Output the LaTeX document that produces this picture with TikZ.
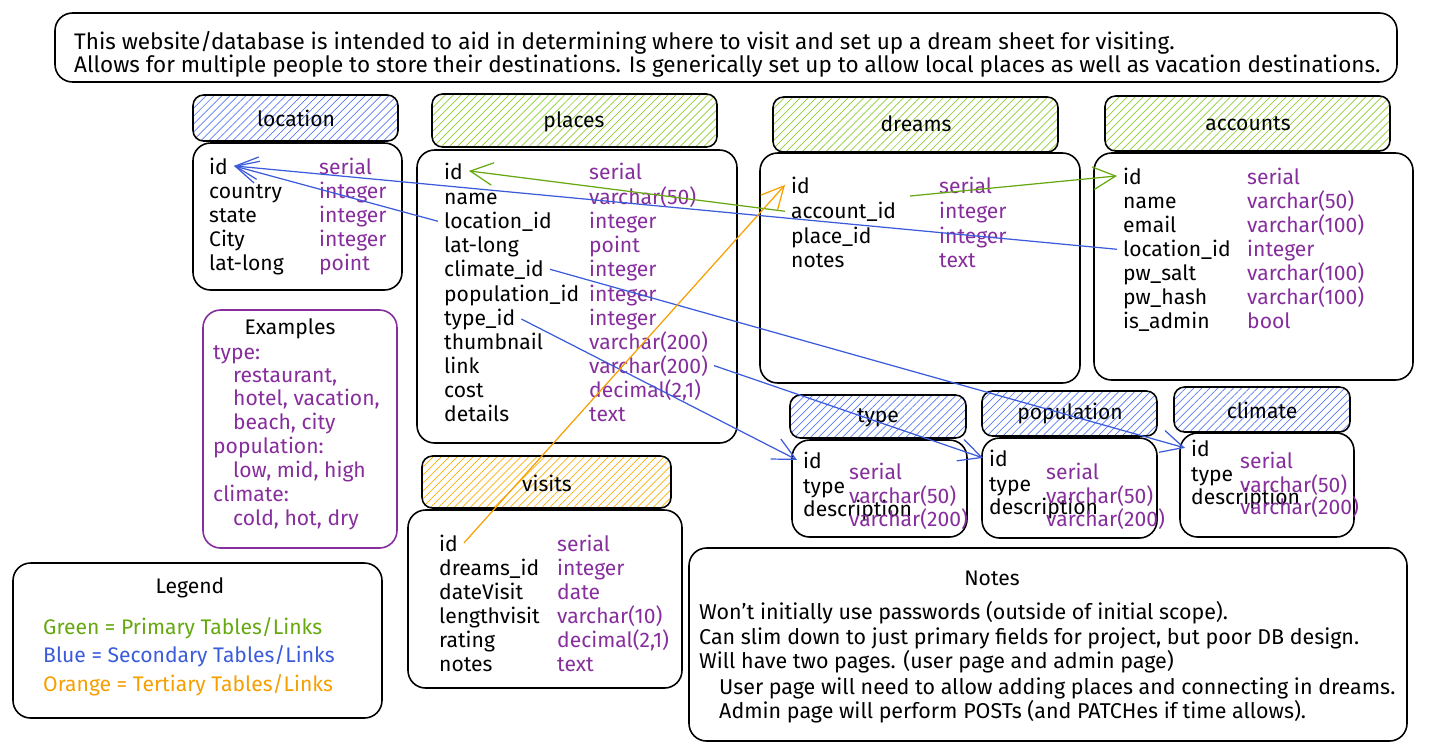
\documentclass[tikz,border=0pt]{standalone}
\usepackage{fontspec}
\setmainfont{Fira Sans}
\usetikzlibrary{positioning, arrows.meta, patterns.meta}

\definecolor{hatchgreen}{RGB}{140,206,50}
\definecolor{hatchblue}{RGB}{90,122,245}
\definecolor{hatchorange}{RGB}{250,176,5}
\definecolor{typepurple}{RGB}{134,46,156}
\definecolor{linkgreen}{RGB}{102,168,15}
\definecolor{linkblue}{RGB}{59,91,219}
\definecolor{linkorange}{RGB}{245,159,0}

\tikzset{
  body/.style={draw=black, line width=0.9pt, rounded corners=10pt},
  head/.style={draw=black, line width=0.9pt, rounded corners=6pt},
  greenhead/.style={head, pattern={Lines[angle=45, distance=3.2pt, line width=0.4pt]}, pattern color=hatchgreen},
  bluehead/.style={head, pattern={Lines[angle=45, distance=3.2pt, line width=0.4pt]}, pattern color=hatchblue},
  orangehead/.style={head, pattern={Lines[angle=45, distance=3.2pt, line width=0.4pt]}, pattern color=hatchorange},
  title/.style={font=\fontsize{12}{14}\selectfont},
  fname/.style={anchor=base west, font=\fontsize{12}{14}\selectfont},
  ftype/.style={anchor=base west, text=typepurple, font=\fontsize{12}{14}\selectfont},
  txt/.style={anchor=base west, font=\fontsize{12.8}{14}\selectfont},
  notetxt/.style={anchor=base west, font=\fontsize{12.2}{14}\selectfont},
  link/.style={line width=0.7pt, -{Straight Barb[length=4.5mm, width=4.5mm]}},
}

\begin{document}
\begin{tikzpicture}[x=0.02cm, y=-0.02cm]
\useasboundingbox (0,0) rectangle (1429,755);

% banner
\draw[body] (55,13) rectangle (1397,82);
\node[txt] (intro1) at (68,49) {This website/database is intended to aid in determining where to visit and set up a dream sheet for visiting.};
\node[txt] (intro2) at (68,72) {Allows for multiple people to store their destinations. Is generically set up to allow local places as well as vacation destinations.};

% location
\draw[bluehead] (193,95) rectangle (398,141);
\node[title] (location) at (296,118) {location};
\draw[body] (193,143) rectangle (402,290);
\node[fname] (l-id) at (203,174) {id};
\node[fname] (l-country) at (203,198) {country};
\node[fname] (l-state) at (203,222) {state};
\node[fname] (l-city) at (203,246) {City};
\node[fname] (l-latlong) at (203,270) {lat-long};
\node[ftype] (l-id-type) at (313,174) {serial};
\node[ftype] (l-country-type) at (313,198) {integer};
\node[ftype] (l-state-type) at (313,222) {integer};
\node[ftype] (l-city-type) at (313,246) {integer};
\node[ftype] (l-latlong-type) at (313,270) {point};

% places
\draw[greenhead] (432,94) rectangle (717,147);
\node[title] (places) at (574,122) {places};
\draw[body] (417,150) rectangle (737,443);
\node[fname] (p-id) at (438,179) {id};
\node[fname] (p-name) at (438,204) {name};
\node[fname] (p-location) at (438,228) {location\_id};
\node[fname] (p-latlong) at (438,252) {lat-long};
\node[fname] (p-climate) at (438,276) {climate\_id};
\node[fname] (p-population) at (438,301) {population\_id};
\node[fname] (p-type) at (438,325) {type\_id};
\node[fname] (p-thumb) at (438,349) {thumbnail};
\node[fname] (p-link) at (438,373) {link};
\node[fname] (p-cost) at (438,397) {cost};
\node[fname] (p-details) at (438,421) {details};
\node[ftype] (p-id-type) at (583,179) {serial};
\node[ftype] (p-name-type) at (583,204) {varchar(50)};
\node[ftype] (p-location-type) at (583,228) {integer};
\node[ftype] (p-latlong-type) at (583,252) {point};
\node[ftype] (p-climate-type) at (583,276) {integer};
\node[ftype] (p-population-type) at (583,301) {integer};
\node[ftype] (p-type-type) at (583,325) {integer};
\node[ftype] (p-thumb-type) at (583,349) {varchar(200)};
\node[ftype] (p-link-type) at (583,373) {varchar(200)};
\node[ftype] (p-cost-type) at (583,397) {decimal(2,1)};
\node[ftype] (p-details-type) at (583,421) {text};

% dreams
\draw[greenhead] (773,97) rectangle (1058,152);
\node[title] (dreams) at (916,124) {dreams};
\draw[body] (760,153) rectangle (1080,383);
\node[fname] (d-id) at (785,193) {id};
\node[fname] (d-account) at (785,218) {account\_id};
\node[fname] (d-place) at (785,243) {place\_id};
\node[fname] (d-notes) at (785,267) {notes};
\node[ftype] (d-id-type) at (933,193) {serial};
\node[ftype] (d-account-type) at (933,218) {integer};
\node[ftype] (d-place-type) at (933,243) {integer};
\node[ftype] (d-notes-type) at (933,267) {text};
\coordinate (dreams-out) at (910,196);

% accounts
\draw[greenhead] (1105,96) rectangle (1390,151);
\node[title] (accounts) at (1248,124) {accounts};
\draw[body] (1094,153) rectangle (1413,380);
\node[fname] (a-id) at (1117,184) {id};
\node[fname] (a-name) at (1117,208) {name};
\node[fname] (a-email) at (1117,232) {email};
\node[fname] (a-location) at (1117,256) {location\_id};
\node[fname] (a-salt) at (1117,280) {pw\_salt};
\node[fname] (a-hash) at (1117,304) {pw\_hash};
\node[fname] (a-admin) at (1117,328) {is\_admin};
\node[ftype] (a-id-type) at (1241,184) {serial};
\node[ftype] (a-name-type) at (1241,208) {varchar(50)};
\node[ftype] (a-email-type) at (1241,232) {varchar(100)};
\node[ftype] (a-location-type) at (1241,256) {integer};
\node[ftype] (a-salt-type) at (1241,280) {varchar(100)};
\node[ftype] (a-hash-type) at (1241,304) {varchar(100)};
\node[ftype] (a-admin-type) at (1241,328) {bool};

% visits
\draw[orangehead] (422,456) rectangle (671,508);
\node[title] (visits) at (547,483) {visits};
\draw[body] (408,510) rectangle (682,688);
\node[fname] (v-id) at (433,551) {id};
\node[fname] (v-dreams) at (433,575) {dreams\_id};
\node[fname] (v-date) at (433,599) {dateVisit};
\node[fname] (v-length) at (433,623) {lengthvisit};
\node[fname] (v-rating) at (433,647) {rating};
\node[fname] (v-notes) at (433,671) {notes};
\node[ftype] (v-id-type) at (551,551) {serial};
\node[ftype] (v-dreams-type) at (551,575) {integer};
\node[ftype] (v-date-type) at (551,599) {date};
\node[ftype] (v-length-type) at (551,623) {varchar(10)};
\node[ftype] (v-rating-type) at (551,647) {decimal(2,1)};
\node[ftype] (v-notes-type) at (551,671) {text};

% type
\draw[bluehead] (790,395) rectangle (966,438);
\node[title] (type) at (878,418) {type};
\draw[body] (792,440) rectangle (967,537);
\node[fname] (t-id) at (797,468) {id};
\node[fname] (t-type) at (797,493) {type};
\node[fname] (t-desc) at (797,516) {description};
\node[ftype] (t-id-type) at (843,479) {serial};
\node[ftype] (t-type-type) at (843,503) {varchar(50)};
\node[ftype] (t-desc-type) at (843,526) {varchar(200)};

% population
\draw[bluehead] (982,391) rectangle (1157,436);
\node[title] (population) at (1070,414) {population};
\draw[body] (982,438) rectangle (1157,538);
\node[fname] (po-id) at (983,466) {id};
\node[fname] (po-type) at (983,491) {type};
\node[fname] (po-desc) at (983,514) {description};
\node[ftype] (po-id-type) at (1040,479) {serial};
\node[ftype] (po-type-type) at (1040,503) {varchar(50)};
\node[ftype] (po-desc-type) at (1040,526) {varchar(200)};

% climate
\draw[bluehead] (1174,387) rectangle (1350,432);
\node[title] (climate) at (1262,410) {climate};
\draw[body] (1180,433) rectangle (1354,537);
\node[fname] (c-id) at (1185,456) {id};
\node[fname] (c-type) at (1185,481) {type};
\node[fname] (c-desc) at (1185,504) {description};
\node[ftype] (c-id-type) at (1234,468) {serial};
\node[ftype] (c-type-type) at (1234,492) {varchar(50)};
\node[ftype] (c-desc-type) at (1234,514) {varchar(200)};

% examples
\draw[body, draw=typepurple] (203,310) rectangle (397,548);
\node[title] (examples) at (290,329) {Examples};
\node[ftype] (ex-type) at (207,359) {type:};
\node[ftype] (ex-type1) at (227,382) {restaurant,};
\node[ftype] (ex-type2) at (227,405) {hotel, vacation,};
\node[ftype] (ex-type3) at (227,429) {beach, city};
\node[ftype] (ex-pop) at (207,453) {population:};
\node[ftype] (ex-pop1) at (227,477) {low, mid, high};
\node[ftype] (ex-clim) at (207,501) {climate:};
\node[ftype] (ex-clim1) at (227,525) {cold, hot, dry};

% legend
\draw[body] (13,563) rectangle (382,718);
\node[title] (legend) at (190,588) {Legend};
\node[fname, text=linkgreen] (lg-green) at (37,634) {Green = Primary Tables/Links};
\node[fname, text=linkblue] (lg-blue) at (37,662) {Blue = Secondary Tables/Links};
\node[fname, text=linkorange] (lg-orange) at (37,691) {Orange = Tertiary Tables/Links};

% notes
\draw[body] (689,548) rectangle (1407,741);
\node[title] (notes) at (992,578) {Notes};
\node[notetxt] (n1) at (693,619) {Won't initially use passwords (outside of initial scope).};
\node[notetxt] (n2) at (693,644) {Can slim down to just primary fields for project, but poor DB design.};
\node[notetxt] (n3) at (693,668) {Will have two pages. (user page and admin page)};
\node[notetxt] (n4) at (713,694) {User page will need to allow adding places and connecting in dreams.};
\node[notetxt] (n5) at (713,718) {Admin page will perform POSTs (and PATCHes if time allows).};

% links
\draw[link, linkgreen] (d-account.west) -- (p-id.east);
\draw[link, linkgreen] (dreams-out) -- (a-id.west);
\draw[link, linkblue] (a-location.west) -- (l-id.east);
\draw[link, linkblue] (p-location.west) -- (l-id.east);
\draw[link, linkblue] (p-climate.east) -- (c-id.west);
\draw[link, linkblue] (p-type.east) -- (t-id.west);
\draw[link, linkblue] (p-link-type.east) -- (po-id.west);
\draw[link, linkorange] (v-id.east) -- (d-id.west);
\end{tikzpicture}
\end{document}
